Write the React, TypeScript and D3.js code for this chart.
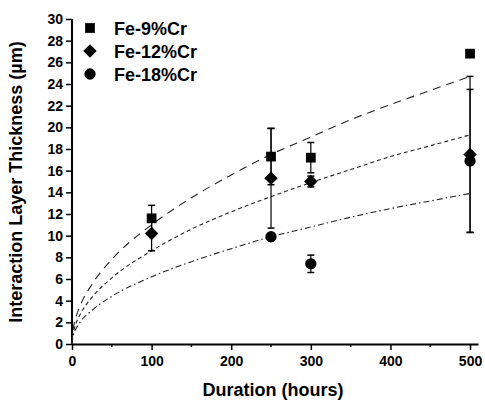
import React, { useRef, useEffect } from 'react';
import * as d3 from 'd3';

// measured points
const fe9Hours = [100, 250, 300, 500];
const fe9Values = [11.6, 17.3, 17.2, 26.8];
const fe9Errors = [1.2, 2.6, 1.4, 0];

const fe12Hours = [100, 250, 300, 500];
const fe12Values = [10.2, 15.3, 15.0, 17.5];
const fe12Errors = [1.6, 4.6, 0.5, 7.2];

const fe18Hours = [250, 300, 500];
const fe18Values = [9.9, 7.4, 16.9];
const fe18Errors = [0, 0.8, 6.6];

// fitted curves
const fitHours = [0, 1, 2, 5, 10, 25, 50, 100, 150, 200, 250, 300, 350, 400, 450, 500];
const fit9 = [0, 1.1, 1.6, 2.5, 3.5, 5.5, 7.8, 11.0, 13.5, 15.6, 17.5, 19.1, 20.7, 22.1, 23.4, 24.7];
const fit12 = [0, 0.9, 1.2, 1.9, 2.7, 4.3, 6.1, 8.6, 10.6, 12.2, 13.6, 14.9, 16.1, 17.3, 18.3, 19.3];
const fit18 = [0, 0.6, 0.9, 1.4, 2.0, 3.1, 4.4, 6.2, 7.6, 8.8, 9.9, 10.8, 11.7, 12.5, 13.2, 13.9];

const xTicks = [0, 100, 200, 300, 400, 500];
const xMinorTicks = [50, 150, 250, 350, 450];
const yTicks = [0, 2, 4, 6, 8, 10, 12, 14, 16, 18, 20, 22, 24, 26, 28, 30];

const legendLabels = ['Fe-9%Cr', 'Fe-12%Cr', 'Fe-18%Cr'];

const Chart = () => {
  const svgRef = useRef<SVGSVGElement>(null);

  useEffect(() => {
    const width = 485;
    const height = 402;
    const svg = d3.select(svgRef.current);
    svg.selectAll('*').remove();
    svg.attr('width', width).attr('height', height);

    const font = 'Arial, "Liberation Sans", sans-serif';

    const x = d3.scaleLinear().domain([0, 510]).range([72, 478]);
    const y = d3.scaleLinear().domain([0, 30]).range([344, 19]);

    // axes
    const yAxis = svg.append('g').attr('transform', 'translate(72,0)');
    yAxis.call(d3.axisLeft(y).tickValues(yTicks).tickSize(6).tickPadding(3).tickFormat(d3.format('d')));
    const xAxis = svg.append('g').attr('transform', 'translate(0,344)');
    xAxis.call(d3.axisBottom(x).tickValues(xTicks).tickSize(6).tickPadding(6).tickSizeOuter(0).tickFormat(d3.format('d')));
    xAxis.selectAll('.minor')
      .data(xMinorTicks)
      .enter()
      .append('line')
      .attr('x1', d => x(d))
      .attr('x2', d => x(d))
      .attr('y1', 0)
      .attr('y2', 3)
      .attr('stroke', '#000')
      .attr('stroke-width', 1.5);

    [xAxis, yAxis].forEach(a => {
      a.select('.domain').attr('stroke-width', 2).attr('stroke', '#000');
      a.selectAll('.tick line').attr('stroke-width', 1.5);
      a.selectAll('.tick text')
        .attr('font-family', font)
        .attr('font-weight', 'bold')
        .attr('font-size', 14)
        .attr('fill', '#000');
    });
    yAxis.select('.domain').attr('d', 'M0,344V19');

    svg.append('text')
      .attr('x', 273)
      .attr('y', 396)
      .attr('text-anchor', 'middle')
      .attr('font-family', font)
      .attr('font-weight', 'bold')
      .attr('font-size', 18)
      .text('Duration (hours)');

    svg.append('text')
      .attr('transform', 'translate(22,182) rotate(-90)')
      .attr('text-anchor', 'middle')
      .attr('font-family', font)
      .attr('font-weight', 'bold')
      .attr('font-size', 18)
      .text('Interaction Layer Thickness (\u00b5m)');

    // fit curves
    const line = d3.line<number>()
      .x((d, i) => x(fitHours[i]))
      .y(d => y(d))
      .curve(d3.curveMonotoneX);

    const fits = [
      { v: fit9, dash: '8,6' },
      { v: fit12, dash: '4,3' },
      { v: fit18, dash: '6,3,1.5,3' },
    ];
    fits.forEach(f => {
      svg.append('path')
        .attr('d', line(f.v))
        .attr('fill', 'none')
        .attr('stroke', '#222')
        .attr('stroke-width', 1.1)
        .attr('stroke-dasharray', f.dash);
    });

    // error bars
    const drawErrors = (hours: number[], values: number[], errors: number[]) => {
      const g = svg.append('g');
      hours.forEach((h, i) => {
        const e = errors[i];
        if (!e) return;
        const cx = x(h);
        const y1 = y(values[i] + e);
        const y2 = y(values[i] - e);
        g.append('line').attr('x1', cx).attr('x2', cx).attr('y1', y1).attr('y2', y2)
          .attr('stroke', '#000').attr('stroke-width', 1.2);
        [y1, y2].forEach(yy => {
          g.append('line').attr('x1', cx - 3.5).attr('x2', cx + 3.5).attr('y1', yy).attr('y2', yy)
            .attr('stroke', '#000').attr('stroke-width', 1.5);
        });
      });
    };
    drawErrors(fe9Hours, fe9Values, fe9Errors);
    drawErrors(fe12Hours, fe12Values, fe12Errors);
    drawErrors(fe18Hours, fe18Values, fe18Errors);

    // markers: square, rotated square (diamond), circle
    const square = d3.symbol().type(d3.symbolSquare).size(95);
    const diamond = d3.symbol().type(d3.symbolSquare).size(90);
    const circle = d3.symbol().type(d3.symbolCircle).size(100);
    const rot = [0, 45, 0];

    const drawMarkers = (hours: number[], values: number[], sym: any, r: number) => {
      svg.append('g')
        .selectAll('path')
        .data(values)
        .enter()
        .append('path')
        .attr('d', sym())
        .attr('transform', (d, i) => `translate(${x(hours[i])},${y(d)}) rotate(${r})`)
        .attr('fill', '#000');
    };
    drawMarkers(fe9Hours, fe9Values, square, rot[0]);
    drawMarkers(fe12Hours, fe12Values, diamond, rot[1]);
    drawMarkers(fe18Hours, fe18Values, circle, rot[2]);

    // legend
    const legend = svg.append('g');
    const syms = [square, diamond, circle];
    legendLabels.forEach((label, i) => {
      const ly = 28 + i * 23;
      legend.append('path')
        .attr('d', syms[i]())
        .attr('transform', `translate(90,${ly}) rotate(${rot[i]})`)
        .attr('fill', '#000');
      legend.append('text')
        .attr('x', 114)
        .attr('y', ly + 6.5)
        .attr('font-family', font)
        .attr('font-weight', 'bold')
        .attr('font-size', 18)
        .text(label);
    });
  }, []);

  return <svg ref={svgRef} style={{ position: 'absolute', left: 0, top: 0, background: '#fff' }}></svg>;
};

export default function App() {
  return <Chart />;
}
